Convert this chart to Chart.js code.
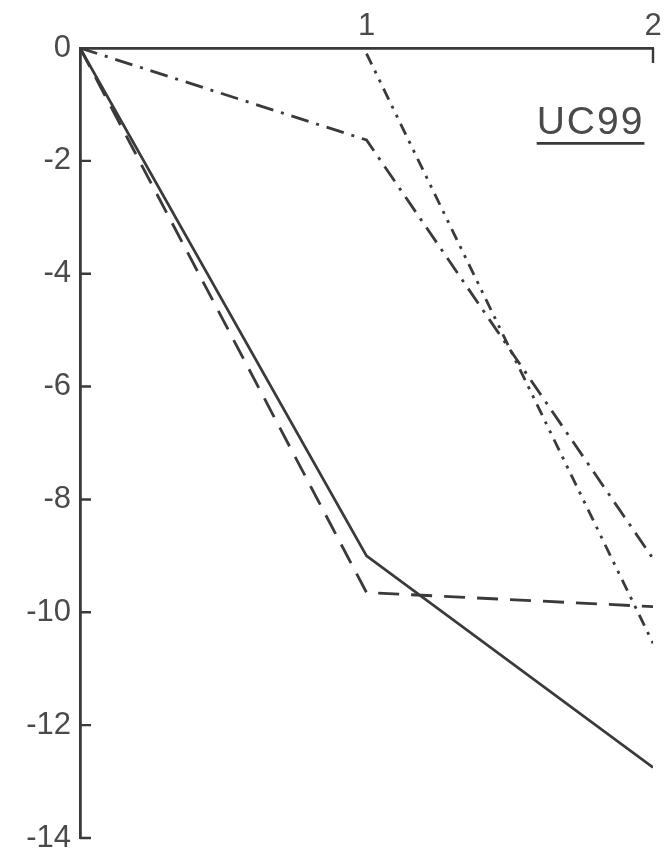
<!DOCTYPE html>
<html>
<head>
<meta charset="utf-8">
<script src="https://cdn.jsdelivr.net/npm/chart.js@4.4.1/dist/chart.umd.min.js"></script>
<style>
  html, body { margin: 0; padding: 0; background: #fff; overflow: hidden; }
  #wrap { width: 666px; height: 848px; position: relative; }
</style>
</head>
<body>
<div id="wrap"><canvas id="chart"></canvas></div>
<script>
'use strict';

// x positions and the four series
let xValues = [0, 1, 2];
let solidSeries = [0, -9.0, -12.75];
let dashedSeries = [0, -9.65, -9.9];
let dashDotSeries = [0, -1.63, -9.05];
let dashDotDotSeries = [null, -0.1, -10.55];

let yTicks = [0, -2, -4, -6, -8, -10, -12, -14];
let xTicks = [1, 2];
let panelLabel = 'UC99';

const ink = '#3a3a3a';
const textInk = '#4a4a4a';
const fontFamily = '"Liberation Sans", "DejaVu Sans", sans-serif';

// turns an array of y values into {x,y} points for the linear x scale
function toPoints(values){
  let pts = [];
  for(let i=0; i<xValues.length; i++){
    pts.push({x: xValues[i], y: values[i]});
  }
  return pts;
}

function makeSet(values, dash){
  return {
    data: toPoints(values),
    borderColor: ink,
    borderWidth: 2.8,
    borderDash: dash,
    pointRadius: 0,
    fill: false,
    tension: 0,
    spanGaps: false
  };
}

// draws the small inward tick marks and the panel label
const decorations = {
  id: 'decorations',
  afterDraw(chart){
    const c = chart.ctx;
    const xs = chart.scales.x;
    const ys = chart.scales.y;
    c.save();
    c.strokeStyle = ink;
    c.lineWidth = 2.4;
    c.beginPath();
    for(let i=1; i<yTicks.length; i++){
      let py = ys.getPixelForValue(yTicks[i]);
      c.moveTo(xs.left, py);
      c.lineTo(xs.left + 11, py);
    }
    let px2 = xs.getPixelForValue(2);
    c.moveTo(px2, ys.top);
    c.lineTo(px2, ys.top + 15);
    c.stroke();

    // panel label with underline
    c.fillStyle = textInk;
    c.font = '39px ' + fontFamily;
    c.letterSpacing = '2px';
    c.textAlign = 'right';
    c.textBaseline = 'alphabetic';
    let lx = xs.getPixelForValue(1.97);
    let ly = ys.getPixelForValue(-1.53);
    c.fillText(panelLabel, lx, ly);
    let w = c.measureText(panelLabel).width;
    c.beginPath();
    c.lineWidth = 2.6;
    c.moveTo(lx - w, ly + 9);
    c.lineTo(lx, ly + 9);
    c.stroke();
    c.restore();
  }
};

const chartConfig = {
  type: 'line',
  data: {
    datasets: [
      makeSet(solidSeries, []),
      makeSet(dashedSeries, [21, 12]),
      makeSet(dashDotSeries, [18, 8, 3, 8]),
      makeSet(dashDotDotSeries, [12, 7, 3, 7, 3, 7])
    ]
  },
  options: {
    responsive: true,
    maintainAspectRatio: false,
    animation: false,
    layout: { padding: { top: 0, right: 13, bottom: 10, left: 0 } },
    plugins: {
      legend: { display: false },
      tooltip: { enabled: false }
    },
    scales: {
      x: {
        type: 'linear',
        position: 'top',
        min: 0,
        max: 2,
        afterBuildTicks(scale){
          scale.ticks = xTicks.map(v => ({value: v}));
        },
        afterFit(scale){
          scale.height = 48;
          scale.paddingLeft = 0;
          scale.paddingRight = 0;
        },
        grid: { display: false, drawTicks: false },
        border: { display: true, color: ink, width: 2.8 },
        ticks: {
          color: textInk,
          font: { family: fontFamily, size: 31 },
          padding: 3,
          maxRotation: 0
        }
      },
      y: {
        type: 'linear',
        min: -14,
        max: 0,
        afterBuildTicks(scale){
          scale.ticks = yTicks.map(v => ({value: v}));
        },
        afterFit(scale){
          scale.width = 80;
          scale.paddingTop = 0;
          scale.paddingBottom = 0;
        },
        grid: { display: false, drawTicks: false },
        border: { display: true, color: ink, width: 2.8 },
        ticks: {
          color: textInk,
          font: { family: fontFamily, size: 31 },
          padding: 9
        }
      }
    }
  },
  plugins: [decorations]
};

new Chart(document.getElementById('chart'), chartConfig);
</script>
</body>
</html>
